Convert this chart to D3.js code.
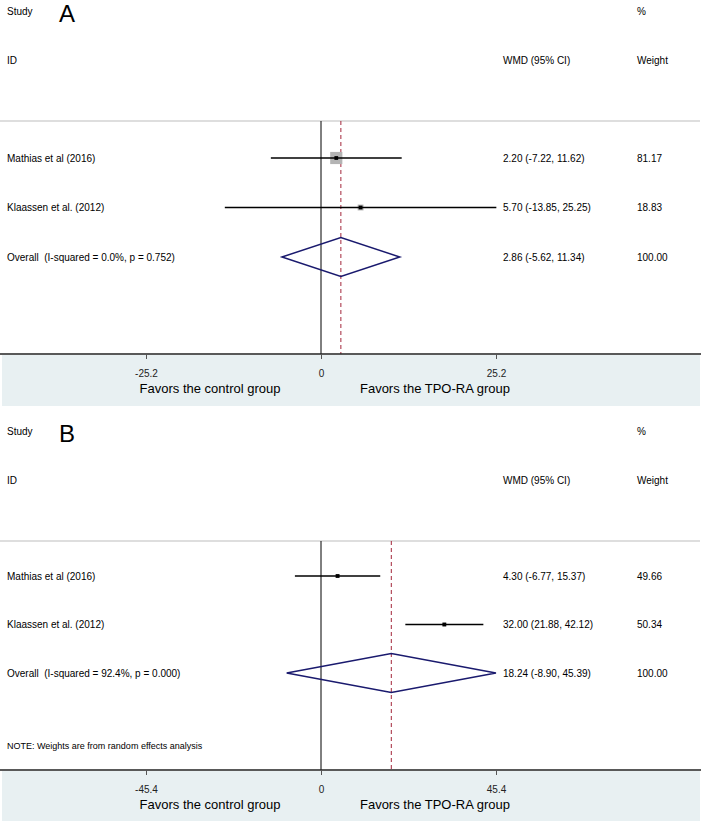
<!DOCTYPE html>
<html><head><meta charset="utf-8">
<script src="https://cdn.jsdelivr.net/npm/d3@7"></script>
<style>body{margin:0;background:#fff}svg{display:block}text{font-family:"Liberation Sans",Arial,sans-serif;white-space:pre}</style>
</head><body>
<script>
// ---- data ----
const studies = ["Mathias et al (2016)", "Klaassen et al. (2012)"];
const panelLetters = ["A", "B"];
const estA = [2.20, 5.70], lowA = [-7.22, -13.85], highA = [11.62, 25.25], weightA = [81.17, 18.83];
const estB = [4.30, 32.00], lowB = [-6.77, 21.88], highB = [15.37, 42.12], weightB = [49.66, 50.34];
const overallA = [2.86, -5.62, 11.34], overallB = [18.24, -8.90, 45.39];
const hetA = "Overall  (I-squared = 0.0%, p = 0.752)";
const hetB = "Overall  (I-squared = 92.4%, p = 0.000)";
const ticksA = [-25.2, 0, 25.2], ticksB = [-45.4, 0, 45.4];
const favorLabels = ["Favors the control group", "Favors the TPO-RA group"];
const note = "NOTE: Weights are from random effects analysis";

const W = 701, H = 822;
const svg = d3.select("body").append("svg").attr("width", W).attr("height", H);

const panels = [
  {letter: panelLetters[0], est: estA, low: lowA, high: highA, w: weightA, overall: overallA, het: hetA, ticks: ticksA,
   top: 0, rowRange: [158, 257], axisY: 354, bandH: 51, boxK: 1.35, note: null},
  {letter: panelLetters[1], est: estB, low: lowB, high: highB, w: weightB, overall: overallB, het: hetB, ticks: ticksB,
   top: 420, rowRange: [576, 673], axisY: 770, bandH: 50, boxK: 0.55, note: note}
];

const fmt = v => d3.format(".2f")(v).replace("\u2212", "-");
const fmt1 = v => v === 0 ? "0" : d3.format(".1f")(v).replace("\u2212", "-");

panels.forEach(p => {
  const g = svg.append("g");
  const ext = p.ticks[p.ticks.length - 1];
  const x = d3.scaleLinear().domain([-ext, ext]).range([146, 496]);
  const y = d3.scaleLinear().domain([0, 2]).range(p.rowRange);
  const headY = p.top + 121;

  // band
  g.append("rect").attr("x", 2).attr("y", p.axisY + 1).attr("width", 698).attr("height", p.bandH).attr("fill", "#e8f0f2");

  // headers
  g.append("text").attr("x", 7).attr("y", p.top + 15).attr("font-size", 10).text("Study");
  g.append("text").attr("x", 59).attr("y", p.top + 22).attr("font-size", 24).text(p.letter);
  g.append("text").attr("x", 637).attr("y", p.top + 15).attr("font-size", 10).text("%");
  g.append("text").attr("x", 7).attr("y", p.top + 64).attr("font-size", 10).text("ID");
  g.append("text").attr("x", 503).attr("y", p.top + 64).attr("font-size", 10).text("WMD (95% CI)");
  g.append("text").attr("x", 637).attr("y", p.top + 64).attr("font-size", 10).text("Weight");
  g.append("line").attr("x1", 0).attr("x2", 700).attr("y1", headY).attr("y2", headY).attr("stroke", "#bdbdbd").attr("stroke-width", 1.2);

  // zero line and overall dashed
  g.append("line").attr("x1", x(0)).attr("x2", x(0)).attr("y1", headY).attr("y2", p.axisY).attr("stroke", "#000").attr("stroke-width", 1);
  g.append("line").attr("x1", x(p.overall[0])).attr("x2", x(p.overall[0])).attr("y1", headY).attr("y2", p.axisY)
    .attr("stroke", "#a3263a").attr("stroke-width", 1).attr("stroke-dasharray", "4,3");

  // studies
  studies.forEach((s, i) => {
    const yy = y(i);
    g.append("text").attr("x", 7).attr("y", yy + 3.5).attr("font-size", 10).text(s);
    const side = p.boxK * Math.sqrt(p.w[i]);
    g.append("rect").attr("x", x(p.est[i]) - side / 2).attr("y", yy - side / 2).attr("width", side).attr("height", side).attr("fill", "#b4b4b4");
    g.append("line").attr("x1", x(p.low[i])).attr("x2", x(p.high[i])).attr("y1", yy).attr("y2", yy).attr("stroke", "#000").attr("stroke-width", 1.6);
    g.append("path").attr("d", d3.symbol(d3.symbolSquare, 14)()).attr("transform", `translate(${x(p.est[i])},${yy})`).attr("fill", "#000");
    g.append("text").attr("x", 503).attr("y", yy + 3.5).attr("font-size", 10)
      .text(`${fmt(p.est[i])} (${fmt(p.low[i])}, ${fmt(p.high[i])})`);
    g.append("text").attr("x", 637).attr("y", yy + 3.5).attr("font-size", 10).text(fmt(p.w[i]));
  });

  // overall
  const yo = y(2);
  g.append("text").attr("x", 7).attr("y", yo + 3.5).attr("font-size", 10).text(p.het);
  const dh = 19.5;
  g.append("path").attr("d", `M${x(p.overall[1])},${yo}L${x(p.overall[0])},${yo - dh}L${x(p.overall[2])},${yo}L${x(p.overall[0])},${yo + dh}Z`)
    .attr("fill", "none").attr("stroke", "#1a1a6e").attr("stroke-width", 1.5);
  g.append("text").attr("x", 503).attr("y", yo + 3.5).attr("font-size", 10)
    .text(`${fmt(p.overall[0])} (${fmt(p.overall[1])}, ${fmt(p.overall[2])})`);
  g.append("text").attr("x", 637).attr("y", yo + 3.5).attr("font-size", 10).text("100.00");

  if (p.note) g.append("text").attr("x", 7).attr("y", p.axisY - 21).attr("font-size", 9).text(p.note);

  // axis
  g.append("line").attr("x1", 0).attr("x2", 701).attr("y1", p.axisY).attr("y2", p.axisY).attr("stroke", "#222").attr("stroke-width", 1.5);
  const axis = d3.axisBottom(x).tickValues(p.ticks).tickSize(5).tickPadding(11).tickFormat(fmt1);
  const ag = g.append("g").attr("transform", `translate(0,${p.axisY})`).call(axis);
  ag.select(".domain").remove();
  ag.selectAll(".tick line").attr("stroke", "#555");
  ag.selectAll(".tick text").attr("font-size", 10).attr("fill", "#222").attr("font-family", '"Liberation Sans",Arial,sans-serif');

  g.append("text").attr("x", 210).attr("y", p.axisY + 39).attr("text-anchor", "middle").attr("font-size", 13).text(favorLabels[0]);
  g.append("text").attr("x", 435).attr("y", p.axisY + 39).attr("text-anchor", "middle").attr("font-size", 13).text(favorLabels[1]);
});
</script>
</body></html>
